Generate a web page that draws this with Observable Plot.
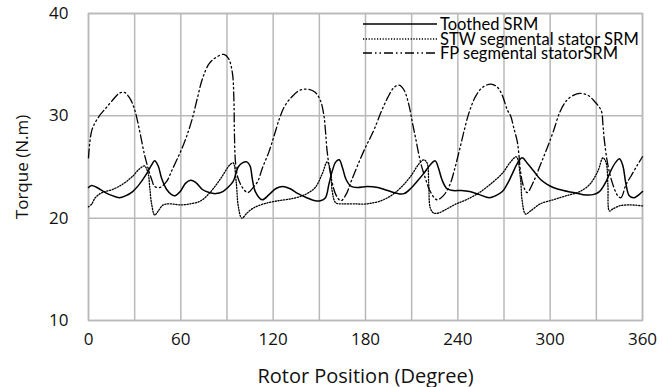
<!DOCTYPE html>
<html>
<head>
<meta charset="utf-8">
<script src="https://cdn.jsdelivr.net/npm/d3@7"></script>
<script src="https://cdn.jsdelivr.net/npm/@observablehq/plot@0.6"></script>
<style>
  html, body { margin: 0; padding: 0; background: #fff; }
  #wrap { position: relative; width: 662px; height: 387px; font-family: Lato, "Open Sans", sans-serif; }
  #legend { position: absolute; left: 363px; top: 17px; font-size: 16.5px; color: #000; }
  #legend .row { display: flex; align-items: center; height: 14.5px; white-space: nowrap; }
  #legend .row span { display: inline-block; height: 14px; line-height: 14px; overflow: visible; }
  #legend svg { width: 74px; height: 6px; margin-right: 3px; flex: none; }
</style>
</head>
<body>
<div id="wrap"><div id="chart"></div><div id="legend"></div></div>
<script>
// Rotor position ticks and torque ticks
const xTickLabels = [0, 60, 120, 180, 240, 300, 360];
const xGrid = [0, 30, 60, 90, 120, 150, 180, 210, 240, 270, 300, 330, 360];
const yTickLabels = [10, 20, 30, 40];
const seriesNames = ["Toothed SRM", "STW segmental stator SRM", "FP segmental statorSRM"];

// [rotor position (deg), torque (N.m)]
const toothed = [
  [0,23.0],[2,23.2],[5.5,23.0],[11,22.5],[15.5,22.2],[20,22.0],[24.3,22.2],[28.7,22.6],[33,23.3],[37.6,24.3],
  [41,25.2],[43,25.6],[45.3,25.1],[47.5,23.9],[50.8,22.8],[54,22.3],[56.3,22.2],[59.6,22.6],[63,23.4],[66.3,23.7],
  [69.6,23.5],[74,22.8],[78.4,22.5],[82.8,22.4],[87.3,22.6],[90.6,23.0],[94,23.6],[97.3,25.0],[100,25.4],[102.9,25.5],
  [105,25.1],[106.5,23.8],[108.4,22.6],[112.9,21.8],[117.3,22.3],[121.8,22.9],[126.2,23.1],[130.7,22.9],[136.2,22.4],
  [141.8,22.0],[147.3,21.7],[150.7,21.7],[154,22.0],[156.2,23.3],[158.4,24.6],[160.7,25.5],[162.9,25.7],[165.1,24.9],
  [167.3,23.8],[170.7,23.1],[175,23.0],[181,23.1],[188,23.0],[194.5,22.7],[201,22.4],[205,22.4],[209.4,22.9],
  [213.6,23.6],[218,24.4],[222,25.2],[225.3,25.6],[227.4,24.9],[229.6,23.8],[232.8,22.9],[237,22.7],[242.3,22.7],
  [247.7,22.6],[254,22.3],[260.4,22.0],[264.7,22.2],[268.9,22.6],[272,23.3],[275,24.2],[278.5,25.3],[281.8,25.9],
  [285,25.4],[289.3,24.6],[293.6,23.8],[298,23.3],[302,23.0],[308.6,22.7],[315,22.5],[321.4,22.3],[327.8,22.3],
  [332,22.6],[336.4,23.6],[339.6,24.7],[342.8,25.5],[345,25.8],[347.1,25.2],[349.3,23.3],[351.4,22.2],[354.6,22.0],
  [357.8,22.3],[360,22.6]
];
const stw = [
  [0,21.1],[2.2,21.4],[4.4,22.0],[8.8,22.5],[15.5,22.8],[22,23.3],[28.7,24.1],[33,24.8],[36.4,25.1],[38.7,24.4],
  [39.8,23.0],[41,21.4],[43,20.3],[45.3,20.7],[48.6,21.3],[53,21.4],[59.6,21.3],[66.3,21.4],[73,21.7],[79.5,22.6],
  [86,23.9],[91.8,25.2],[94,25.4],[96,23.5],[97.3,21.2],[99.6,20.0],[103,20.5],[107.3,21.0],[114,21.4],[123,21.7],
  [132,21.9],[140.7,22.3],[147.3,23.0],[151.8,24.3],[155.1,25.5],[157.3,24.6],[158.4,22.6],[160.7,21.5],[165,21.4],
  [172,21.4],[181,21.4],[190,21.7],[196.6,22.2],[203,23.0],[209.4,24.1],[214.7,25.3],[217.9,25.7],[220,25.4],
  [221.1,23.3],[222.1,21.0],[224.3,20.5],[227.4,20.5],[232.8,20.9],[239,21.4],[245.5,21.8],[254,22.5],[262.6,23.5],
  [269,24.4],[274.3,25.5],[278,26.0],[280.7,23.9],[281.8,21.7],[284,20.4],[287.2,20.7],[293.6,21.4],[302,21.8],
  [310.7,22.2],[319.3,22.6],[325.7,23.3],[331,24.6],[334.3,25.9],[336.4,25.4],[337.5,23.3],[338.5,20.7],[340.7,20.9],
  [345,21.2],[351.4,21.3],[360,21.2]
];
const fp = [
  [0,25.9],[2.2,28.6],[6.6,29.9],[11,30.7],[15.5,31.5],[20,32.2],[23.2,32.3],[26.5,31.8],[29.8,30.7],[32,29.4],
  [34.2,27.8],[36.4,26.2],[38.7,24.9],[41,23.8],[43,23.1],[46.4,23.0],[50.8,23.6],[54,24.6],[57.4,25.7],[60.7,26.8],
  [64,28.1],[67.4,29.7],[70.7,31.7],[74,33.6],[78.4,35.1],[82.8,35.7],[88,36.0],[91,35.6],[93.5,34.2],[94.5,31.5],
  [94.8,28.5],[95.5,25.5],[97,24.0],[100,23.0],[103.5,22.5],[107,23.0],[110,23.6],[113,24.9],[117.3,26.5],
  [120.7,28.1],[124,29.7],[127.3,30.9],[131.8,31.8],[137.3,32.5],[142.9,32.6],[147.3,32.3],[150.7,31.5],[152.9,30.1],
  [154,28.5],[155.1,26.5],[157.3,24.3],[160.7,22.3],[164,21.7],[167.3,22.3],[170.7,23.6],[175,25.2],[179.6,26.8],
  [182.9,27.8],[186,28.8],[190.2,30.4],[194.5,31.8],[198.7,32.8],[201.9,33.0],[205.1,32.5],[208.3,31.0],[210.4,29.4],
  [212.6,27.8],[215.7,25.5],[218.9,23.9],[222.1,22.6],[226.4,21.8],[230.6,22.2],[234.9,23.3],[238.1,24.9],[241.3,26.8],
  [244.5,28.8],[247.7,30.5],[251.9,32.0],[256.2,32.8],[261.5,33.1],[265.7,32.8],[268.9,32.0],[272.1,30.6],[274.3,30.0],
  [276.4,28.8],[278.6,27.5],[279.7,26.2],[280.7,24.6],[282.5,23.2],[285,22.5],[289.3,23.6],[293.6,25.2],[297.9,26.8],
  [302.1,28.5],[306.4,30.4],[310.7,31.5],[315,32.0],[319.3,32.2],[324.6,32.0],[328.9,31.4],[333.2,30.5],[334.3,29.1],
  [335.3,27.5],[337.5,25.2],[340.7,23.3],[343.9,22.2],[346,22.0],[349.3,23.3],[352.5,24.1],[356.7,25.2],[360,26.0]
];

const styles = [
  {stroke: "#000", strokeWidth: 1.5, dash: null},
  {stroke: "#000", strokeWidth: 1.3, dash: "1.2,1.6"},
  {stroke: "#000", strokeWidth: 1.3, dash: "9,3,1.5,3,1.5,3"}
];
const allSeries = [toothed, stw, fp];
const gridColor = "#b9b9b9";

const chart = Plot.plot({
  width: 662,
  height: 387,
  marginLeft: 88,
  marginRight: 20,
  marginTop: 13,
  marginBottom: 67,
  style: {fontFamily: "'Open Sans', Lato, sans-serif", fontSize: "17px", color: "#000", background: "#fff"},
  x: {domain: [0, 360]},
  y: {domain: [10, 40]},
  marks: [
    Plot.gridX(xGrid, {stroke: gridColor, strokeOpacity: 1, strokeWidth: 1.5}),
    Plot.gridY(yTickLabels, {stroke: gridColor, strokeOpacity: 1, strokeWidth: 1.5}),
    Plot.frame({stroke: gridColor, strokeWidth: 1.5}),
    Plot.axisX(xTickLabels, {tickSize: 0, tickPadding: 12, fill: "#111", label: null}),
    Plot.axisX({tickSize: 0, ticks: [], label: "Rotor Position (Degree)", labelAnchor: "center", labelArrow: "none", labelOffset: 62, fontSize: 20, fill: "#111"}),
    Plot.axisY(yTickLabels, {tickSize: 0, tickPadding: 20, fill: "#111", label: null}),
    Plot.axisY({tickSize: 0, ticks: [], label: "Torque (N.m)", labelAnchor: "center", labelArrow: "none", labelOffset: 73, fontSize: 17, fill: "#111"}),
    ...allSeries.map((s, i) => Plot.line(s, {
      x: d => d[0], y: d => d[1], curve: "catmull-rom",
      stroke: styles[i].stroke, strokeWidth: styles[i].strokeWidth,
      strokeDasharray: styles[i].dash
    }))
  ]
});
document.getElementById("chart").appendChild(chart);

// legend
const legend = document.getElementById("legend");
seriesNames.forEach((name, i) => {
  const row = document.createElement("div");
  row.className = "row";
  const s = styles[i];
  row.innerHTML = `<svg viewBox="0 0 74 6"><line x1="0" x2="74" y1="3" y2="3" stroke="${s.stroke}" stroke-width="${s.strokeWidth}" ${s.dash ? `stroke-dasharray="${s.dash}"` : ""}/></svg><span>${name}</span>`;
  legend.appendChild(row);
});
</script>
</body>
</html>
